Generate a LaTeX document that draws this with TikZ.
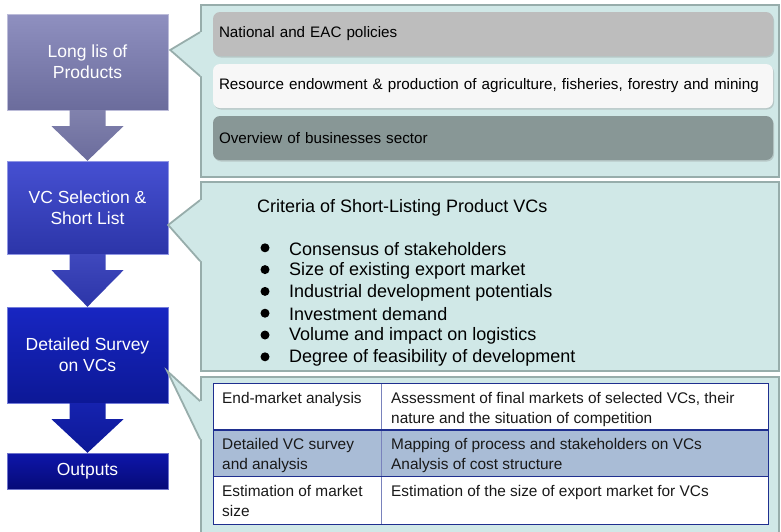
\documentclass[tikz,border=0pt]{standalone}
\usepackage{fontspec}
\setmainfont{Liberation Sans}
\usetikzlibrary{shadows}

\definecolor{panelfill}{HTML}{D0E8E7}
\definecolor{paneldraw}{HTML}{97ADAB}
\definecolor{rowblue}{HTML}{A9BCD6}
\definecolor{tabnavy}{HTML}{1F2F8F}
\definecolor{onetop}{HTML}{8F90C0}
\definecolor{onebot}{HTML}{6B6C9C}
\definecolor{twotop}{HTML}{4650D2}
\definecolor{twobot}{HTML}{2C35A8}
\definecolor{thrtop}{HTML}{1826C2}
\definecolor{thrbot}{HTML}{0C1896}
\definecolor{fourtop}{HTML}{0E16AA}
\definecolor{fourbot}{HTML}{060A78}

\begin{document}
\begin{tikzpicture}[x=1pt,y=-1pt,
    stage/.style={minimum width=161pt,inner sep=0pt,align=center,text=white,
        font=\fontsize{17.5}{21}\selectfont},
    panel/.style={draw=paneldraw,fill=panelfill,line width=1.8pt,inner sep=0pt,minimum width=578pt},
    bar/.style={rounded corners=7pt,minimum width=560pt,minimum height=44pt,text width=548pt,
        align=left,inner xsep=6pt,font=\fontsize{15.2}{18}\selectfont,
        drop shadow={opacity=.3,shadow xshift=1pt,shadow yshift=-1.5pt}},
    dot/.style={circle,fill=black,inner sep=0pt,minimum size=9pt},
    item/.style={anchor=west,inner sep=0pt,font=\fontsize{18}{21}\selectfont},
    cell/.style={anchor=north west,inner sep=0pt,align=left,text=black!90,
        font=\fontsize{15.4}{20}\selectfont}]
        \useasboundingbox (0,0) rectangle (781,531);
        \clip (0,0) rectangle (781,531);
        % stages
        \node[stage,minimum height=96pt,top color=onetop,bottom color=onebot,draw=onetop!60!white] (b1) at (87.5,62) {Long lis of\\Products};
        \node[stage,minimum height=93pt,top color=twotop,bottom color=twobot,draw=twotop!60!white] (b2) at (87.5,207.5) {VC Selection \&\\Short List};
        \node[stage,minimum height=96pt,top color=thrtop,bottom color=thrbot,draw=thrtop!60!white] (b3) at (87.5,355) {Detailed Survey\\on VCs};
        \node[stage,minimum height=36pt,top color=fourtop,bottom color=fourbot,draw=fourtop!60!white] (b4) at (87.5,471) {Outputs};
        % arrows
        \foreach \s/\e/\c in {b1/b2/one, b2/b3/two, b3/b4/thr} {
            \path[top color=\c top!90!black,bottom color=\c bot] ([xshift=-18pt]\s.south) -- ([xshift=-18pt,yshift=-16pt]\s.south)
                -- ([xshift=-36pt,yshift=-16pt]\s.south) -- (\e.north) -- ([xshift=36pt,yshift=-16pt]\s.south)
                -- ([xshift=18pt,yshift=-16pt]\s.south) -- ([xshift=18pt]\s.south) -- cycle;
        }
        % panels
        \node[panel,minimum height=172pt] (p1) at (490,91) {};
        \node[panel,minimum height=189pt] (p2) at (490,276.5) {};
        \node[panel,minimum height=170pt] (p3) at (490,462) {};
        % pointers
        \coordinate (u1) at ([yshift=-28pt]p1.north west);
        \coordinate (l1) at ([yshift=-72pt]p1.north west);
        \coordinate (t1) at ([xshift=2pt,yshift=12pt]b1.east);
        \coordinate (u2) at ([yshift=-19pt]p2.north west);
        \coordinate (l2) at ([yshift=-80pt]p2.north west);
        \coordinate (t2) at ([yshift=-17.5pt]b2.east);
        \coordinate (u3) at ([yshift=-25pt]p3.north west);
        \coordinate (l3) at ([yshift=-63pt]p3.north west);
        \coordinate (t3) at ([xshift=-1pt,yshift=-16pt]b3.east);
        \foreach \i in {1,2,3} {
            \fill[panelfill] (u\i) -- (t\i) -- (l\i) -- ([xshift=2pt]l\i) -- ([xshift=2pt]u\i) -- cycle;
            \draw[paneldraw,line width=1.8pt] (u\i) -- (t\i) -- (l\i);
        }
        % sources
        \node[bar,fill=black!26] (s1) at (493,34) {National and EAC policies};
        \node[bar,fill=black!3] (s2) at (493,86) {Resource endowment \& production of agriculture, fisheries, forestry and mining};
        \node[bar,fill={rgb,255:red,136;green,151;blue,150}] (s3) at (493,138) {Overview of businesses sector};
        % criteria
        \node[anchor=west,inner sep=0pt,font=\fontsize{18}{20}\selectfont] (crit) at (257,208) {Criteria of Short-Listing Product VCs};
        \foreach \t [count=\i] in {Consensus of stakeholders, Size of existing export market,
            Industrial development potentials, Investment demand,
            Volume and impact on logistics, Degree of feasibility of development} {
            \node[dot] (d\i) at (265,226+21.8*\i) {};
            \node[item] (k\i) at (289,227+21.8*\i) {\t};
        }
        % table
        \fill[white] (213,383) rectangle (768,524);
        \fill[rowblue] (213,430) rectangle (768,476);
        \draw[tabnavy!60] (381,383) -- (381,524);
        \draw[tabnavy,line width=1.8pt] (213,430) -- (768,430);
        \draw[tabnavy] (213,476) -- (768,476);
        \draw[tabnavy] (213,383) rectangle (768,524);
        \node[cell] (c11) at (222,392) {End-market analysis};
        \node[cell] (c12) at (391,392) {Assessment of final markets of selected VCs, their\\nature and the situation of competition};
        \node[cell] (c21) at (222,438) {Detailed VC survey\\and analysis};
        \node[cell] (c22) at (391,438) {Mapping of process and stakeholders on VCs\\Analysis of cost structure};
        \node[cell] (c31) at (222,485) {Estimation of market\\size};
        \node[cell] (c32) at (391,485) {Estimation of the size of export market for VCs};
    \end{tikzpicture}
\end{document}
